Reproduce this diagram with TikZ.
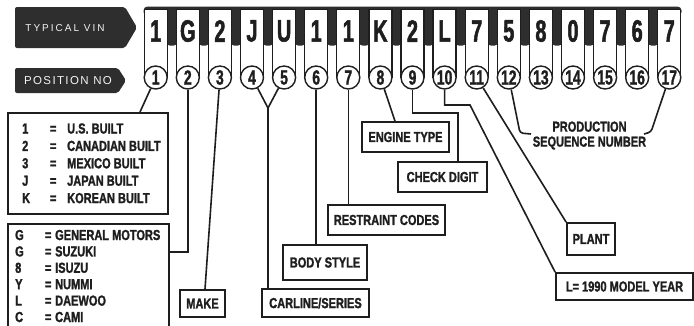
\documentclass[tikz,border=0pt]{standalone}
\usepackage{fontspec}
\setmainfont{Liberation Sans}
\newfontfamily\vinfont[FakeStretch=0.64, FakeBold=1.6]{Liberation Sans Bold}
\newfontfamily\posfont[FakeStretch=0.68, FakeBold=1.3]{Liberation Sans Bold}
\newfontfamily\lblfont[FakeStretch=0.76, FakeBold=1.4]{Liberation Sans Bold}
\newfontfamily\tagfonta[LetterSpace=20]{Liberation Sans}
\newfontfamily\tagfontb[LetterSpace=12]{Liberation Sans}
\definecolor{ink}{HTML}{1E1E1E}
\definecolor{dark}{HTML}{2E2E2E}
\definecolor{paper}{HTML}{F4F4F4}
\begin{document}
\begin{tikzpicture}[x=1pt,y=-1pt,
  box/.style={draw=ink, line width=1.8pt, inner sep=0pt, text=ink,
    font=\lblfont\fontsize{14.5}{15}\selectfont},
  listtxt/.style={inner sep=0pt, text=ink, font=\lblfont\fontsize{14.5}{15}\selectfont},
  link/.style={draw=ink, line width=1.6pt},
  vinchar/.style={inner sep=0pt, text=ink, font=\vinfont\fontsize{31}{31}\selectfont},
  posc/.style={circle, draw=ink, fill=white, line width=1.4pt, minimum size=23pt, inner sep=0pt,
    text=ink, font=\posfont\fontsize{20.5}{20.5}\selectfont},
  tagtxt/.style={inner sep=0pt, text=paper}
]
\useasboundingbox (0,0) rectangle (694,325);
\fill[white] (0,0) rectangle (694,325);

% left tags
\fill[dark, rounded corners=2pt] (15,7) -- (125,7) -- (137,27.5) -- (125,48) -- (15,48) -- cycle;
\node[tagtxt, font=\tagfonta\fontsize{10}{10}\selectfont] (tv) at (65,28.5) {TYPICAL VIN};
\fill[dark, rounded corners=2pt] (15,68) -- (118,68) -- (126,80.5) -- (118,93) -- (15,93) -- cycle;
\node[tagtxt, font=\tagfontb\fontsize{11.5}{11.5}\selectfont] (pn) at (68,81) {POSITION NO};

% VIN strip
\fill[dark, rounded corners=4pt] (143.5,6.5) rectangle (681.5,16);
\foreach \i in {1,...,16} {
  \pgfmathsetmacro\a{155.7+32.1*(\i-1)+11}
  \pgfmathsetmacro\b{155.7+32.1*\i-11}
  \fill[dark, rounded corners=3pt] (\a,8) rectangle (\b,45.5);
}
\foreach \i/\c in {1/1,2/G,3/2,4/J,5/U,6/1,7/1,8/K,9/2,10/L,11/7,12/5,13/8,14/0,15/7,16/6,17/7} {
  \pgfmathsetmacro\x{155.7+32.1*(\i-1)}
  \filldraw[fill=white, draw=ink, line width=1.3pt] (\x-11.5,77.5) -- (\x-11.5,9.8) -- (\x+11.5,9.8) -- (\x+11.5,77.5);
  \node[vinchar] (v\i) at (\x,31) {\c};
  \node[posc] (p\i) at (\x,77.5) {\i};
}

% country box
\node[box, minimum width=160pt, minimum height=101pt, anchor=north west] (country) at (7,112) {};
\foreach \k/\t [count=\n from 0] in {1/U.S. BUILT, 2/CANADIAN BUILT, 3/MEXICO BUILT, J/JAPAN BUILT, K/KOREAN BUILT} {
  \node[listtxt, anchor=base west] (crow\n) at (22,133.5+17.4*\n) {\makebox[27pt][l]{\k}\makebox[8pt][c]{=}\hspace{10pt}\t};
}
% make list box
\node[box, minimum width=161pt, minimum height=108pt, anchor=north west] (makes) at (7,223) {};
\foreach \k/\t [count=\n from 0] in {G/GENERAL MOTORS, G/SUZUKI, 8/ISUZU, Y/NUMMI, L/DAEWOO, C/CAMI} {
  \node[listtxt, anchor=base west] (mrow\n) at (15,240+16.4*\n) {\makebox[29pt][l]{\k}\makebox[8pt][c]{=}\hspace{3pt}\t};
}

% label boxes
\node[box, minimum width=45pt, minimum height=27pt] (make) at (202.5,303.5) {MAKE};
\node[box, minimum width=107pt, minimum height=28pt] (carline) at (315.5,303) {CARLINE/SERIES};
\node[box, minimum width=84pt, minimum height=35pt] (body) at (325,262.5) {BODY STYLE};
\node[box, minimum width=117pt, minimum height=30pt] (restraint) at (386.5,220) {RESTRAINT CODES};
\node[box, minimum width=87pt, minimum height=30pt] (engine) at (405.5,137) {ENGINE TYPE};
\node[box, minimum width=89pt, minimum height=30pt] (check) at (442.5,177) {CHECK DIGIT};
\node[box, minimum width=48pt, minimum height=32pt] (plant) at (591,239) {PLANT};
\node[box, minimum width=137pt, minimum height=27pt] (year) at (624.5,286.5) {L= 1990 MODEL YEAR};
\node[listtxt, align=center] (prod) at (589.5,135.5) {PRODUCTION\\SEQUENCE NUMBER};

% connectors
\coordinate (c1) at (140,112);
\draw[link] (p1) -- (c1);
\coordinate (m2) at (168,252);
\draw[link] (p2.south) |- (m2);
\draw[link] (p3) -- ([xshift=2.5pt]make.north);
\coordinate (v45) at (268,108);
\draw[link] (p4) -- (v45) -- (p5);
\draw[link] (v45) -- (v45 |- carline.north);
\draw[link] (p6.south) -- (p6.south |- body.north);
\draw[link] (p7.south) -- (p7.south |- restraint.north);
\draw[link] (p8) -- ([xshift=-10.5pt]engine.north);
\coordinate (k9) at (458,113);
\draw[link] (p9.south) |- (k9) -- (k9 |- check.north);
\coordinate (k10) at (470,105);
\draw[link] (p10.south) |- (k10) -- (year.north west);
\draw[link] (p11) -- (plant.north west);
\coordinate (b12) at (520,133);
\coordinate (e12) at (531,134);
\draw[link, rounded corners=3pt] (p12) -- (b12) -- (e12);
\coordinate (b17) at (651,132);
\coordinate (e17) at (644,134);
\draw[link, rounded corners=3pt] (p17) -- (b17) -- (e17);
\end{tikzpicture}
\end{document}
